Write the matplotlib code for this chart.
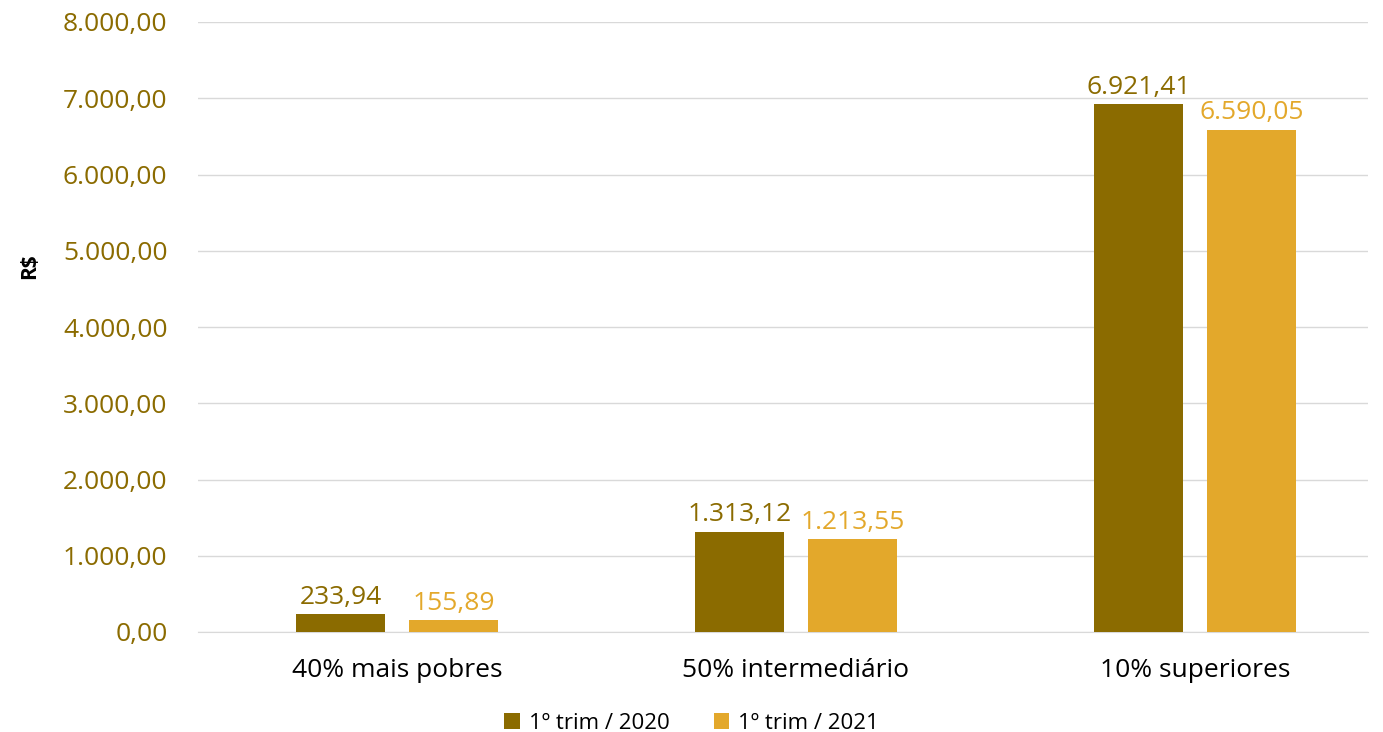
import matplotlib
matplotlib.use("Agg")
import matplotlib.pyplot as plt
import numpy as np
from matplotlib.ticker import FuncFormatter

plt.rcParams['font.family'] = ['Open Sans', 'DejaVu Sans']

categorias = ['40% mais pobres', '50% intermediário', '10% superiores']
series = ['1º trim / 2020', '1º trim / 2021']
valores_2020 = [233.94, 1313.12, 6921.41]
valores_2021 = [155.89, 1213.55, 6590.05]

cor_2020 = '#8B6B00'
cor_2021 = '#E3A82B'


def br(v, pos=None):
    s = '{:,.2f}'.format(v)
    return s.replace(',', 'X').replace('.', ',').replace('X', '.')


fig = plt.figure(figsize=(13.83, 7.32), dpi=100)
ax = fig.add_axes([198 / 1383, 1 - 632 / 732, (1368 - 198) / 1383, 610 / 732])

x = np.arange(len(categorias))
w = 0.223
off = 0.1416
b1 = ax.bar(x - off, valores_2020, w, color=cor_2020, label=series[0], zorder=3)
b2 = ax.bar(x + off, valores_2021, w, color=cor_2021, label=series[1], zorder=3)

for bars, cor in ((b1, cor_2020), (b2, cor_2021)):
    for r in bars:
        ax.text(r.get_x() + r.get_width() / 2, r.get_height() + 60, br(r.get_height()),
                ha='center', va='bottom', color=cor, fontsize=19)

ax.set_ylim(0, 8000)
ax.set_xlim(-0.499, 2.434)
ax.set_yticks(np.arange(0, 8001, 1000))
ax.yaxis.set_major_formatter(FuncFormatter(br))
ax.set_xticks(x)
ax.set_xticklabels(categorias, fontsize=19)
ax.tick_params(axis='y', labelsize=19, labelcolor=cor_2020, length=0, pad=22)
ax.tick_params(axis='x', length=0, pad=19)
ax.grid(axis='y', color='#D9D9D9', linewidth=1, zorder=0)
for s in ['top', 'right', 'left']:
    ax.spines[s].set_visible(False)
ax.spines['bottom'].set_color('#D9D9D9')

ax.set_ylabel('R$', fontsize=15, fontweight='bold')
ax.yaxis.set_label_coords(-0.135, 0.6)

fig.legend(loc='lower center', bbox_to_anchor=(0.5, -0.03), ncol=2, frameon=False,
           fontsize=16, handlelength=0.7, handleheight=0.7, columnspacing=2.0, handletextpad=0.4)

fig.savefig('out.png', dpi=100)
